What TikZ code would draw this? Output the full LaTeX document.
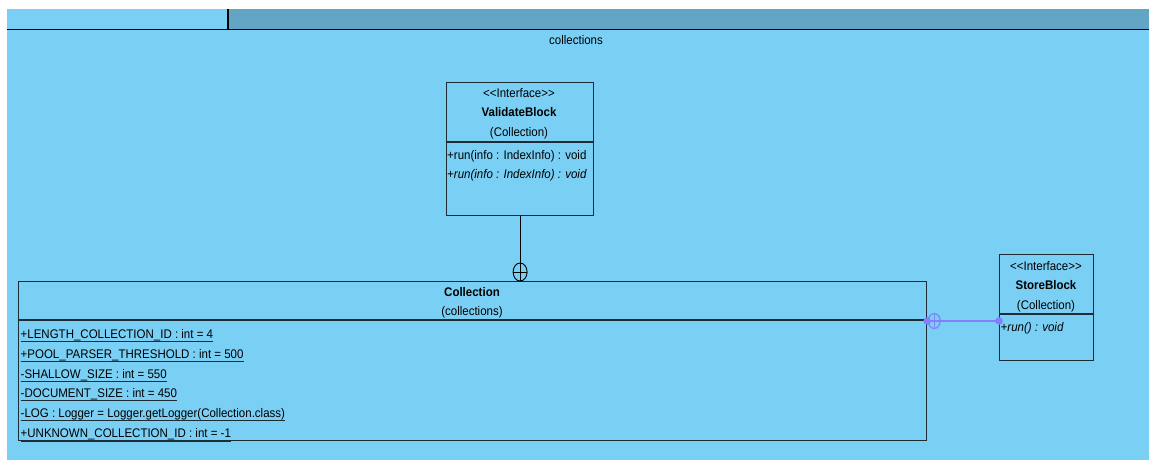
\documentclass[tikz,border=0pt]{standalone}
\usepackage{fontspec}
\newfontfamily\umlfont{Liberation Sans}[FakeStretch=0.92]
\definecolor{pkgfill}{RGB}{122,207,245}
\definecolor{tabdark}{RGB}{98,165,196}
\definecolor{edge}{RGB}{30,44,54}
\definecolor{selline}{RGB}{130,128,255}
\begin{document}
\begin{tikzpicture}[x=1pt,y=-1pt]
\tikzset{
  umlbox/.style={draw=edge, line width=1.2pt, inner sep=0pt, anchor=north west},
  divider/.style={draw=edge, line width=1.2pt},
  txt/.style={inner sep=0pt, font=\umlfont\fontsize{12.5}{14}\selectfont},
  ctxt/.style={txt, anchor=base},
  ltxt/.style={txt, anchor=base west},
  uline/.style={draw=edge, line width=0.9pt},
  nestline/.style={draw=black, line width=0.9pt},
  selconn/.style={draw=selline, line width=1.5pt},
}
% page and package background
\useasboundingbox (0,0) rectangle (1149,460);
\fill[white] (0,0) rectangle (1149,460);
\fill[pkgfill] (7,9) rectangle (1149,460);
% package tab strip
\fill[tabdark] (228,9) rectangle (1149,29);
\draw[black, line width=1.2pt] (228,9) -- (228,29.5);
\draw[black, line width=1.5pt] (7,29.5) -- (1149,29.5);
\node[ctxt] (pkgname) at (576,45) {collections};

% ValidateBlock interface
\node[umlbox, minimum width=147pt, minimum height=133pt] (vb) at (446,82) {};
\node[ctxt] (vbst) at (519,97) {<\kern0pt<Interface>\kern0pt>};
\node[ctxt, font=\umlfont\bfseries\fontsize{12.5}{14}\selectfont] (vbname) at (519,117) {ValidateBlock};
\node[ctxt] (vbowner) at (519,136) {(Collection)};
\draw[divider] (vb.west |- 0,142) -- (vb.east |- 0,142);
\node[ltxt] (vbop1) at (447,159) {+run(info : IndexInfo) : void};
\node[ltxt, font=\umlfont\itshape\fontsize{12.5}{14}\selectfont] (vbop2) at (447,178) {+run(info : IndexInfo) : void};

% Collection class
\node[umlbox, minimum width=908pt, minimum height=159pt] (coll) at (18,281) {};
\node[ctxt, font=\umlfont\bfseries\fontsize{12.5}{14}\selectfont] (collname) at (472,296) {Collection};
\node[ctxt] (collowner) at (472,315) {(collections)};
\draw[divider] (coll.west |- 0,320) -- (coll.east |- 0,320);
\foreach \t [count=\i] in {
  {+LENGTH\_COLLECTION\_ID : int = 4},
  {+POOL\_PARSER\_THRESHOLD : int = 500},
  {-SHALLOW\_SIZE : int = 550},
  {-DOCUMENT\_SIZE : int = 450},
  {-LOG : Logger = Logger.getLogger(Collection.class)},
  {+UNKNOWN\_COLLECTION\_ID : int = -1}} {
  \node[ltxt] (attr\i) at (20.5,{319+19.7*\i}) {\t};
  \draw[uline] ([yshift=-3pt]attr\i.base west) -- ([yshift=-3pt]attr\i.base east);
}
% last attribute's underline runs just beneath the class border
\draw[edge, line width=1.6pt] ([yshift=-3.6pt]attr6.base west) -- ([yshift=-3.6pt]attr6.base east);

% StoreBlock interface
\node[umlbox, minimum width=94pt, minimum height=106pt] (sb) at (999,254) {};
\node[ctxt] (sbst) at (1046,270) {<\kern0pt<Interface>\kern0pt>};
\node[ctxt, font=\umlfont\bfseries\fontsize{12.5}{14}\selectfont] (sbname) at (1046,289) {StoreBlock};
\node[ctxt] (sbowner) at (1046,309) {(Collection)};
\draw[divider] (sb.west |- 0,314) -- (sb.east |- 0,314);
\node[ltxt, font=\umlfont\itshape\fontsize{12.5}{14}\selectfont] (sbop) at (1000.5,331) {+run() : void};

% nesting: ValidateBlock inside Collection
\coordinate (vbnest) at (vb.south |- coll.north);
\coordinate (vbcirc) at ([yshift=9pt]vbnest);
\draw[nestline] (vb.south) -- (vbnest);
\draw[nestline] (vbcirc) ellipse [x radius=7, y radius=9];
\draw[nestline] ([xshift=-7pt]vbcirc) -- ([xshift=7pt]vbcirc);

% nesting: StoreBlock inside Collection (selected connector)
\coordinate (sbnest) at (coll.east |- 0,321);
\coordinate (sbend) at (sb.west |- 0,321);
\coordinate (sbcirc) at ([xshift=7pt]sbnest);
\draw[selconn] (sbnest) -- (sbend);
\draw[selconn, line width=1.2pt] (sbcirc) ellipse [x radius=6, y radius=7.5];
\draw[selconn, line width=1.2pt] ([yshift=7.5pt]sbcirc) -- ([yshift=-7.5pt]sbcirc);
\fill[selline] (sbnest) circle [radius=3.8];
\fill[selline] (sbend) circle [radius=3.8];
\end{tikzpicture}
\end{document}
